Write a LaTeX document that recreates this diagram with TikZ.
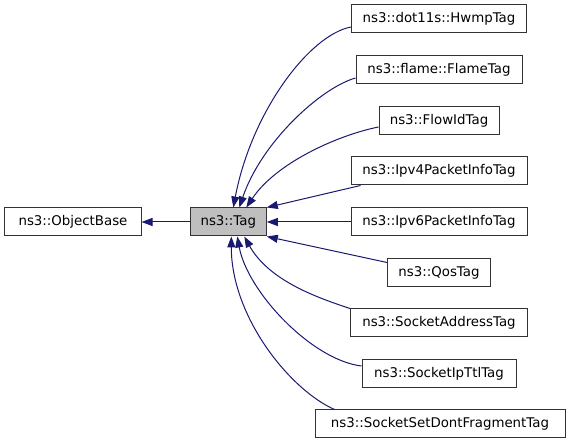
\documentclass[tikz,border=0pt]{standalone}
\usepackage{fontspec}
\setmainfont{DejaVu Sans}
\usetikzlibrary{arrows.meta,calc}
\definecolor{edgeblue}{HTML}{191970}
\definecolor{taggray}{HTML}{BFBFBF}
\begin{document}
\begin{tikzpicture}[x=1bp,y=1bp,
  cls/.style={draw=black!80, line width=1bp, rectangle, inner sep=0pt,
    minimum height=28bp, font=\fontsize{13.4}{16}\selectfont, text=black},
  edge/.style={draw=edgeblue, line width=1bp, -{Triangle[length=11bp,width=8bp]}}]
\useasboundingbox (0,0) rectangle (568,443);
\node[cls, minimum width=136bp] (objbase) at (73,221) {ns3::ObjectBase};
\node[cls, minimum width=76bp, fill=taggray] (tag) at (228.3,221) {ns3::Tag};
\node[cls, minimum width=175bp] (hwmp) at (439,424) {ns3::dot11s::HwmpTag};
\node[cls, minimum width=166bp] (flame) at (439,373) {ns3::flame::FlameTag};
\node[cls, minimum width=120bp] (flowid) at (439,322) {ns3::FlowIdTag};
\node[cls, minimum width=176bp] (ipv4) at (439,272) {ns3::Ipv4PacketInfoTag};
\node[cls, minimum width=176bp] (ipv6) at (439,221) {ns3::Ipv6PacketInfoTag};
\node[cls, minimum width=103bp] (qos) at (439,170.5) {ns3::QosTag};
\node[cls, minimum width=177bp] (sockaddr) at (439,120) {ns3::SocketAddressTag};
\node[cls, minimum width=154bp] (sockttl) at (439,69.5) {ns3::SocketIpTtlTag};
\node[cls, minimum width=250bp] (sockdf) at (440,19) {ns3::SocketSetDontFragmentTag};

\draw[edge] (tag.west) -- (objbase.east);
\draw[edge] ($(hwmp.west)+(0,-8)$) .. controls +(-42,-8) and +(18,95) .. ($(tag.north)+(5,0)$);
\draw[edge] ($(flame.west)+(0,-8)$) .. controls +(-35,-10) and +(22,65) .. ($(tag.north)+(11,0)$);
\draw[edge] ($(flowid.west)+(0,-6)$) .. controls +(-40,-8) and +(30,45) .. ($(tag.north)+(18,0)$);
\draw[edge] ($(ipv4.south west)+(10,0)$) -- (tag.north east);
\draw[edge] (ipv6.west) -- (tag.east);
\draw[edge] ($(qos.west)+(0,10)$) -- (tag.south east);
\draw[edge] (sockaddr.north west) .. controls +(-30,10) and +(25,-45) .. ($(tag.south)+(16,0)$);
\draw[edge] ($(sockttl.west)+(0,7.5)$) .. controls +(-50,6) and +(10,-55) .. ($(tag.south)+(9,0)$);
\draw[edge] ($(sockdf.north west)+(20,0)$) .. controls +(-45,20) and +(0,-80) .. ($(tag.south)+(3,0)$);
\end{tikzpicture}
\end{document}
